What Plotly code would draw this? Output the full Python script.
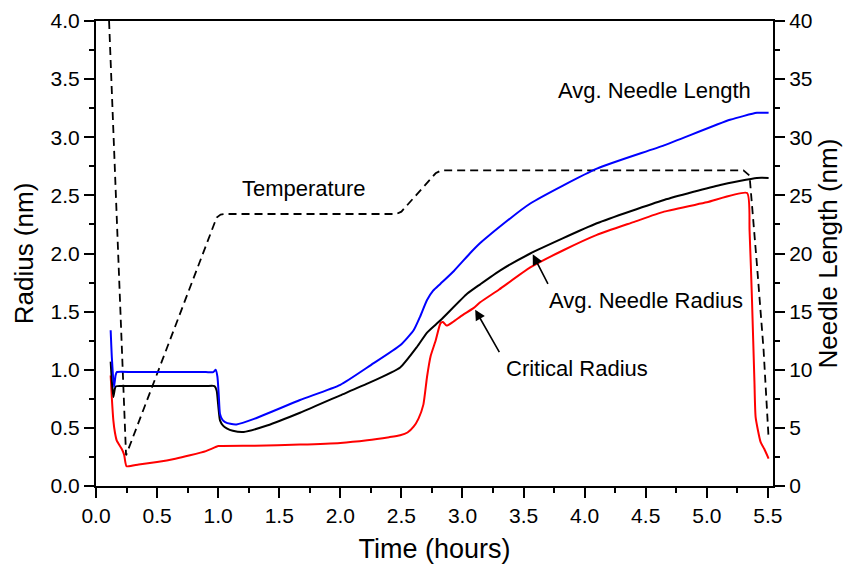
import plotly.graph_objects as go

# ---- data ----
# Critical radius (nm, left axis)
crit_x = [0.12, 0.13, 0.142, 0.155, 0.17, 0.21, 0.23, 0.25, 0.35, 0.5, 0.65, 0.77, 0.9, 0.99, 1.0,
          1.3, 1.67, 2.0, 2.22, 2.4, 2.49, 2.55, 2.6, 2.64, 2.68, 2.71, 2.74, 2.78, 2.82, 2.84, 2.87,
          2.92, 3.0, 3.09, 3.145, 3.3, 3.555, 3.83, 4.1, 4.4, 4.65, 5.0, 5.33, 5.35, 5.37, 5.39, 5.40,
          5.44, 5.47, 5.506]
crit_y = [0.95, 0.75, 0.565, 0.46, 0.39, 0.32, 0.27, 0.17, 0.185, 0.207, 0.235, 0.264, 0.3, 0.34, 0.344,
          0.347, 0.356, 0.37, 0.393, 0.42, 0.436, 0.46, 0.51, 0.58, 0.70, 0.94, 1.12, 1.25, 1.40, 1.41, 1.38,
          1.41, 1.47, 1.53, 1.58, 1.69, 1.88, 2.03, 2.16, 2.27, 2.36, 2.44, 2.52, 2.2, 1.6, 0.9, 0.59,
          0.38, 0.32, 0.236]

# Average needle radius (nm, left axis)
rad_x = [0.12, 0.13, 0.142, 0.155, 0.164, 0.2, 0.5, 0.9, 0.97, 0.988, 1.0, 1.015, 1.04, 1.07, 1.12,
         1.21, 1.4, 1.67, 2.0, 2.22, 2.49, 2.63, 2.71, 2.82, 3.04, 3.145, 3.31, 3.555, 4.1, 4.65, 5.11,
         5.41, 5.506]
rad_y = [1.07, 0.9, 0.765, 0.84, 0.858, 0.86, 0.86, 0.86, 0.86, 0.82, 0.7, 0.565, 0.52, 0.496, 0.475,
         0.465, 0.52, 0.63, 0.78, 0.88, 1.02, 1.20, 1.32, 1.425, 1.655, 1.735, 1.855, 2.0, 2.26, 2.46, 2.59,
         2.65, 2.65]

# Average needle length (nm, right axis)
len_x = [0.12, 0.13, 0.147, 0.16, 0.17, 0.3, 0.6, 0.9, 0.96, 0.98, 0.994, 1.005, 1.015, 1.035, 1.057,
         1.1, 1.15, 1.3, 1.67, 2.0, 2.25, 2.49, 2.6, 2.65, 2.71, 2.76, 2.82, 2.93, 3.06, 3.145, 3.2,
         3.555, 4.1, 4.65, 5.19, 5.41, 5.506]
len_y = [13.4, 11.0, 8.5, 9.5, 9.8, 9.8, 9.8, 9.8, 9.8, 10.0, 9.4, 7.8, 6.2, 5.7, 5.5,
         5.35, 5.3, 5.8, 7.4, 8.7, 10.4, 12.1, 13.4, 14.5, 16.0, 16.8, 17.4, 18.5, 20.0, 20.9, 21.4,
         24.3, 27.3, 29.3, 31.5, 32.1, 32.1]

# Temperature profile (drawn on left-axis scale)
temp_x = [0.107, 0.246, 0.988, 1.02, 1.06, 2.46, 2.50, 2.78, 2.82, 2.86, 5.30, 5.35, 5.41, 5.465, 5.506]
temp_y = [4.0, 0.264, 2.31, 2.335, 2.34, 2.34, 2.36, 2.69, 2.712, 2.715, 2.715, 2.67, 1.91, 1.17, 0.41]

x_ticks = [0.0, 0.5, 1.0, 1.5, 2.0, 2.5, 3.0, 3.5, 4.0, 4.5, 5.0, 5.5]
y_ticks = [0.0, 0.5, 1.0, 1.5, 2.0, 2.5, 3.0, 3.5, 4.0]
y2_ticks = [0, 5, 10, 15, 20, 25, 30, 35, 40]

FONT = "Liberation Sans, Arial, sans-serif"
SMOOTH = 0.5

fig = go.Figure()
fig.add_trace(go.Scatter(x=temp_x, y=temp_y, mode="lines",
                         line=dict(color="black", width=1.8, dash="8px,5px"), name="Temperature"))
fig.add_trace(go.Scatter(x=crit_x, y=crit_y, mode="lines",
                         line=dict(color="#ff0000", width=2, shape="spline", smoothing=SMOOTH),
                         name="Critical Radius"))
fig.add_trace(go.Scatter(x=rad_x, y=rad_y, mode="lines",
                         line=dict(color="black", width=2, shape="spline", smoothing=SMOOTH),
                         name="Avg. Needle Radius"))
fig.add_trace(go.Scatter(x=len_x, y=len_y, mode="lines", yaxis="y2",
                         line=dict(color="#0000ff", width=2, shape="spline", smoothing=SMOOTH),
                         name="Avg. Needle Length"))

axis_common = dict(showgrid=False, zeroline=False, showline=True, linecolor="black", linewidth=2,
                   ticks="outside", ticklen=10, tickwidth=2, tickcolor="black", automargin=False,
                   tickfont=dict(family=FONT, size=21, color="black"))

fig.update_layout(
    width=850, height=565,
    margin=dict(l=96, r=77, t=21, b=79),
    paper_bgcolor="white", plot_bgcolor="white",
    showlegend=False,
    font=dict(family=FONT, color="black"),
    xaxis=dict(range=[0, 5.542], tickvals=x_ticks, ticktext=[f"{v:.1f}" for v in x_ticks],
               mirror=True,
               minor=dict(dtick=0.25, ticklen=5, tickwidth=2, tickcolor="black", ticks="outside"),
               title=dict(text="Time (hours)", font=dict(family=FONT, size=27), standoff=13),
               **axis_common),
    yaxis=dict(range=[0, 4.0], tickvals=y_ticks, ticktext=[f"{v:.1f}" for v in y_ticks],
               minor=dict(dtick=0.25, ticklen=5, tickwidth=2, tickcolor="black", ticks="outside"),
               title=dict(text="Radius (nm)", font=dict(family=FONT, size=26), standoff=9),
               **axis_common),
    yaxis2=dict(range=[0, 40], tickvals=y2_ticks, overlaying="y", side="right",
                minor=dict(dtick=2.5, ticklen=5, tickwidth=2, tickcolor="black", ticks="outside"),
                title=dict(text="Needle Length (nm)", font=dict(family=FONT, size=26), standoff=6),
                **axis_common),
)

ann_font = dict(family=FONT, size=22, color="black")
fig.add_annotation(x=4.57, y=3.40, text="Avg. Needle Length", showarrow=False, font=ann_font)
fig.add_annotation(x=1.70, y=2.56, text="Temperature", showarrow=False, font=ann_font)
fig.add_annotation(x=4.50, y=1.595, text="Avg. Needle Radius", showarrow=False, font=ann_font)
fig.add_annotation(x=3.937, y=1.01, text="Critical Radius", showarrow=False, font=ann_font)
fig.add_annotation(x=3.575, y=1.993, ax=16, ay=31, text="", showarrow=True,
                   arrowhead=2, arrowsize=1.3, arrowwidth=1.6, arrowcolor="black")
fig.add_annotation(x=3.104, y=1.517, ax=25, ay=44, text="", showarrow=True,
                   arrowhead=2, arrowsize=1.3, arrowwidth=1.6, arrowcolor="black")

fig.write_html("out.html")
